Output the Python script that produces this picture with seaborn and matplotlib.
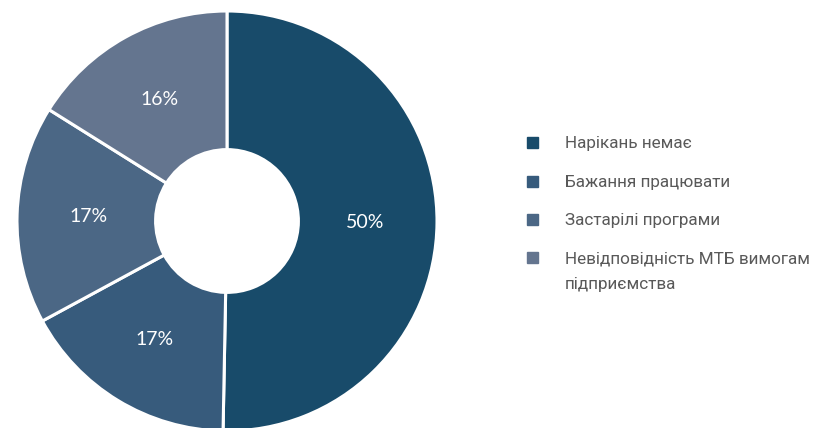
import matplotlib
matplotlib.use("Agg")
import matplotlib.pyplot as plt
import seaborn as sns
from matplotlib.patches import Rectangle

# data
categories = ["Нарікань немає", "Бажання працювати", "Застарілі програми",
              "Невідповідність МТБ вимогам\nпідприємства"]
shares = [50.3, 16.8, 16.8, 16.1]
pct_labels = ["50%", "17%", "17%", "16%"]
colors = ["#184b6a", "#375b7c", "#4b6785", "#64758f"]

sns.set_theme(style="white")
palette = sns.color_palette(colors)

fig = plt.figure(figsize=(8.24, 4.28), dpi=100)
# pie centre ~ (227, 221) px, radius ~210 px
ax = fig.add_axes([17 / 824, -3 / 428, 420 / 824, 420 / 428])

labels_iter = iter(pct_labels)
wedges, _, autotexts = ax.pie(
    shares, colors=palette, startangle=90, counterclock=False,
    autopct=lambda p: next(labels_iter), pctdistance=0.66,
    wedgeprops=dict(width=0.66, edgecolor="white", linewidth=2.2),
)
for t in autotexts:
    t.set_color("white")
    t.set_fontsize(14)
    t.set_family(["Lato", "DejaVu Sans"])
ax.set_xlim(-1, 1)
ax.set_ylim(-1, 1)
ax.set_aspect("equal")

# legend on the right
row_y = [142, 181, 219, 257]
for y, lab, col in zip(row_y, categories, palette):
    fig.patches.append(Rectangle((527 / 824, 1 - (y + 5.5) / 428), 11 / 824, 11 / 428,
                                 transform=fig.transFigure, color=col))
    for k, line in enumerate(lab.split("\n")):
        fig.text(565 / 824, 1 - (y + 6 + 26 * k) / 428, line, color="#595959",
                 fontsize=12.3, family=["Roboto", "DejaVu Sans"],
                 va="baseline", ha="left")

fig.savefig("out.png", dpi=100)
